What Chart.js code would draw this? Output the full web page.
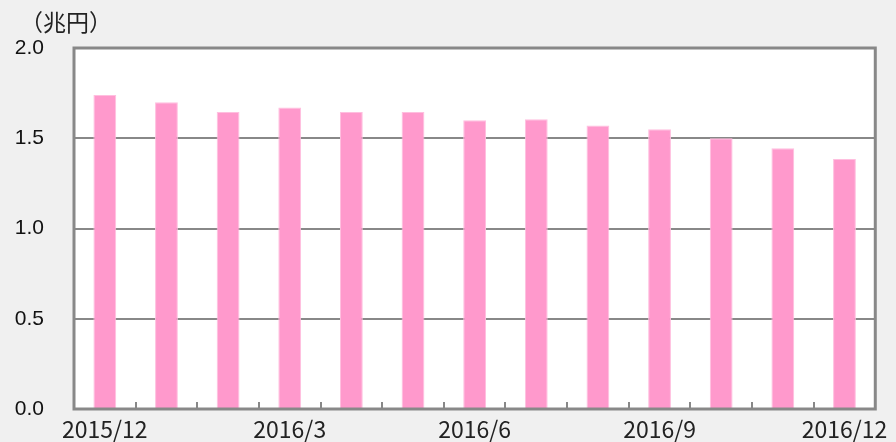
<!DOCTYPE html>
<html><head><meta charset="utf-8">
<script src="https://cdn.jsdelivr.net/npm/chart.js@4"></script>
<style>html,body{margin:0;padding:0;background:#f0f0f0;overflow:hidden;}#wrap{position:relative;width:896px;height:442px;}</style>
</head><body><div id="wrap"><canvas id="c"></canvas></div>
<script>
const categories = ["2015/12","2016/1","2016/2","2016/3","2016/4","2016/5","2016/6","2016/7","2016/8","2016/9","2016/10","2016/11","2016/12"];
const shownLabels = ["2015/12","2016/3","2016/6","2016/9","2016/12"];
const values = [1.74,1.70,1.645,1.67,1.645,1.645,1.60,1.605,1.57,1.55,1.50,1.445,1.385];
const yTicks = [0,0.5,1.0,1.5,2.0];
const unitLabel = "（兆円）";

const frame = {
  id:'frame',
  beforeDraw(chart){
    const {ctx, chartArea:a} = chart;
    ctx.save();
    ctx.fillStyle='#f0f0f0'; ctx.fillRect(0,0,chart.width,chart.height);
    ctx.fillStyle='#ffffff'; ctx.fillRect(a.left,a.top,a.right-a.left,a.bottom-a.top);
    ctx.restore();
  },
  afterDatasetsDraw(chart){
    const {ctx, chartArea:a, scales:{x}} = chart;
    ctx.save();
    ctx.strokeStyle='#888888'; ctx.lineWidth=2;
    ctx.beginPath();
    for(let i=1;i<categories.length;i++){
      const px=Math.round((x.getPixelForValue(i-1)+x.getPixelForValue(i))/2);
      ctx.moveTo(px,a.bottom); ctx.lineTo(px,a.bottom-7);
    }
    ctx.stroke();
    ctx.lineWidth=3;
    ctx.strokeRect(a.left,a.top,a.right-a.left,a.bottom-a.top);
    ctx.fillStyle='#222';
    ctx.font='23px "Noto Sans CJK JP"';
    ctx.textBaseline='middle'; ctx.textAlign='left';
    ctx.fillText(unitLabel,20,22);
    ctx.restore();
  }
};

new Chart(document.getElementById('c'),{
  type:'bar',
  data:{labels:categories,datasets:[{data:values,backgroundColor:'#ff99cc',borderColor:'#ffbfdf',borderWidth:1,barPercentage:0.74,categoryPercentage:0.5}]},
  options:{
    responsive:true,maintainAspectRatio:false,animation:false,devicePixelRatio:1,
    layout:{padding:{left:0,right:19,top:48,bottom:0}},
    plugins:{legend:{display:false},tooltip:{enabled:false},title:{display:false}},
    scales:{
      x:{grid:{display:false,drawTicks:false,tickLength:0},border:{display:false},
        afterFit:s=>{s.height=33;},
        ticks:{autoSkip:false,maxRotation:0,color:'#222',font:{family:'"Noto Sans CJK JP"',size:23,lineHeight:1.1},padding:8,
          callback:(v,i)=>shownLabels.includes(categories[i])?categories[i]:''}},
      y:{min:0,max:2.0,afterBuildTicks:s=>{s.ticks=yTicks.map(v=>({value:v}));},
        afterFit:s=>{s.width=74;s.paddingTop=0;s.paddingBottom=0;},
        grid:{color:'#888888',lineWidth:2,drawTicks:false},border:{display:false},
        ticks:{color:'#111',padding:30,font:{family:'"Liberation Sans"',size:21},callback:v=>Number(v).toFixed(1)}}
    }
  },
  plugins:[frame]
});
</script></body></html>
